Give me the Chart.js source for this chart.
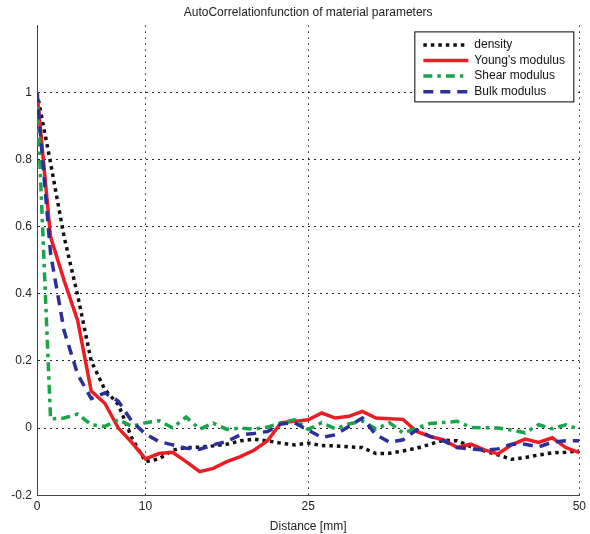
<!DOCTYPE html>
<html>
<head>
<meta charset="utf-8">
<script src="https://cdn.jsdelivr.net/npm/chart.js@4.4.1/dist/chart.umd.min.js"></script>
<style>
  html, body { margin: 0; padding: 0; background: #fff; }
  #wrap { width: 590px; height: 534px; }
</style>
</head>
<body>
<div id="wrap"><canvas id="acf" width="590" height="534"></canvas></div>
<script>
// distance lags [mm]
const distance = [0, 1.25, 2.5, 3.75, 5, 6.25, 7.5, 8.75, 10, 11.25, 12.5, 13.75, 15, 16.25, 17.5, 18.75, 20,
  21.25, 22.5, 23.75, 25, 26.25, 27.5, 28.75, 30, 31.25, 32.5, 33.75, 35, 36.25, 37.5, 38.75, 40,
  41.25, 42.5, 43.75, 45, 46.25, 47.5, 48.75, 50];

const density = [1.0, 0.79, 0.57, 0.395, 0.2, 0.115, 0.07, -0.03, -0.1, -0.092, -0.066, -0.058, -0.057,
  -0.053, -0.048, -0.038, -0.033, -0.038, -0.045, -0.05, -0.045, -0.052, -0.053, -0.056, -0.058,
  -0.076, -0.075, -0.068, -0.06, -0.048, -0.036, -0.038, -0.055, -0.068, -0.08, -0.093, -0.088,
  -0.08, -0.074, -0.072, -0.068];

const youngs = [1.0, 0.57, 0.44, 0.32, 0.11, 0.074, 0.0, -0.043, -0.092, -0.076, -0.072, -0.10, -0.13,
  -0.12, -0.10, -0.085, -0.066, -0.038, 0.016, 0.02, 0.025, 0.045, 0.03, 0.035, 0.05, 0.03, 0.028,
  0.026, -0.01, -0.025, -0.035, -0.058, -0.048, -0.065, -0.077, -0.05, -0.033, -0.043, -0.029,
  -0.058, -0.073];

const shear = [1.0, 0.027, 0.03, 0.042, 0.01, 0.005, 0.025, 0.005, 0.016, 0.022, 0.001, 0.033, -0.003,
  0.015, -0.004, 0.0, -0.003, 0.003, 0.015, 0.025, -0.004, 0.016, -0.002, 0.012, 0.021, -0.003,
  0.016, -0.015, 0.0, 0.014, 0.017, 0.02, 0.002, 0.001, 0.0, -0.006, -0.014, 0.01, -0.002, 0.01,
  -0.004];

const bulk = [1.0, 0.52, 0.29, 0.16, 0.088, 0.105, 0.08, 0.02, -0.018, -0.04, -0.05, -0.06, -0.063,
  -0.05, -0.04, -0.02, -0.016, -0.01, 0.012, 0.016, -0.006, -0.028, -0.02, 0.005, 0.03, -0.02,
  -0.042, -0.035, -0.005, -0.025, -0.038, -0.058, -0.062, -0.066, -0.062, -0.048, -0.048, -0.056,
  -0.042, -0.038, -0.038];

const seriesNames = ['density', "Young's modulus", 'Shear modulus', 'Bulk modulus'];
const xTicks = [0, 10, 25, 50];
const yTicks = [-0.2, 0, 0.2, 0.4, 0.6, 0.8, 1];

function pts(values) {
  return values.map((v, i) => ({ x: distance[i], y: v }));
}

Chart.defaults.font.family = '"Liberation Sans", Arial, Helvetica, sans-serif';
Chart.defaults.font.size = 12;
Chart.defaults.color = '#222';

// legend drawn as a boxed inset in the top right corner, like the matlab one
const boxLegend = {
  id: 'boxLegend',
  afterDatasetsDraw(chart) {
    const ctx = chart.ctx;
    const area = chart.chartArea;
    const w = 159, h = 70;
    const left = area.right - 6 - w;
    const top = area.top + 6;
    ctx.save();
    ctx.fillStyle = '#fff';
    ctx.fillRect(left + 0.5, top + 0.5, w, h);
    ctx.strokeStyle = '#000';
    ctx.lineWidth = 1;
    ctx.setLineDash([]);
    ctx.strokeRect(left + 0.5, top + 0.5, w, h);
    ctx.font = '12px "Liberation Sans", Arial, sans-serif';
    ctx.textBaseline = 'middle';
    ctx.textAlign = 'left';
    chart.data.datasets.forEach((ds, i) => {
      const y = top + 13.5 + i * 15.6;
      ctx.strokeStyle = ds.borderColor;
      ctx.lineWidth = ds.borderWidth;
      ctx.setLineDash(ds.borderDash || []);
      ctx.beginPath();
      ctx.moveTo(left + 9, y);
      ctx.lineTo(left + 54, y);
      ctx.stroke();
      ctx.fillStyle = '#111';
      ctx.fillText(ds.label, left + 60, y);
    });
    ctx.restore();
  }
};

const ctx = document.getElementById('acf').getContext('2d');
const chart = new Chart(ctx, {
  type: 'line',
  data: {
    datasets: [{
      label: seriesNames[0],
      data: pts(density),
      borderColor: '#111111',
      borderWidth: 3.5,
      borderDash: [3.5, 4],
      order: 4
    }, {
      label: seriesNames[1],
      data: pts(youngs),
      borderColor: '#ec1c24',
      borderWidth: 3.5,
      order: 3
    }, {
      label: seriesNames[2],
      data: pts(shear),
      borderColor: '#19a34a',
      borderWidth: 3.5,
      borderDash: [9, 5, 3.5, 5],
      order: 2
    }, {
      label: seriesNames[3],
      data: pts(bulk),
      borderColor: '#2b2f97',
      borderWidth: 3.5,
      borderDash: [10, 7],
      order: 1
    }]
  },
  options: {
    responsive: false,
    animation: false,
    layout: { padding: { left: 0, right: 8, top: 0, bottom: 0 } },
    elements: {
      point: { radius: 0 },
      line: { tension: 0, fill: false, borderCapStyle: 'butt' }
    },
    plugins: {
      legend: { display: false },
      tooltip: { enabled: false },
      title: {
        display: true,
        text: 'AutoCorrelationfunction of material parameters',
        fullSize: false,
        font: { size: 12, weight: 'normal' },
        color: '#222',
        padding: { top: 5, bottom: 6 }
      }
    },
    scales: {
      x: {
        type: 'linear',
        min: 0,
        max: 50,
        afterBuildTicks: (scale) => { scale.ticks = xTicks.map(v => ({ value: v })); },
        ticks: { padding: 4, maxRotation: 0, callback: (v) => String(v) },
        grid: { color: '#222', lineWidth: 1, drawTicks: false },
        border: { display: true, color: '#444', width: 1, dash: [1.5, 4.5] },
        title: {
          display: true,
          text: 'Distance [mm]',
          font: { size: 12 },
          padding: { top: 2, bottom: 0 }
        }
      },
      y: {
        min: -0.2,
        max: 1.2,
        afterBuildTicks: (scale) => { scale.ticks = yTicks.map(v => ({ value: v })); },
        afterFit: (scale) => { scale.width = 37; },
        ticks: { padding: 5, callback: (v) => String(+v.toFixed(1)) },
        grid: { color: '#222', lineWidth: 1, drawTicks: false },
        border: { display: true, color: '#444', width: 1, dash: [2, 4] }
      }
    }
  },
  plugins: [boxLegend]
});
</script>
</body>
</html>
